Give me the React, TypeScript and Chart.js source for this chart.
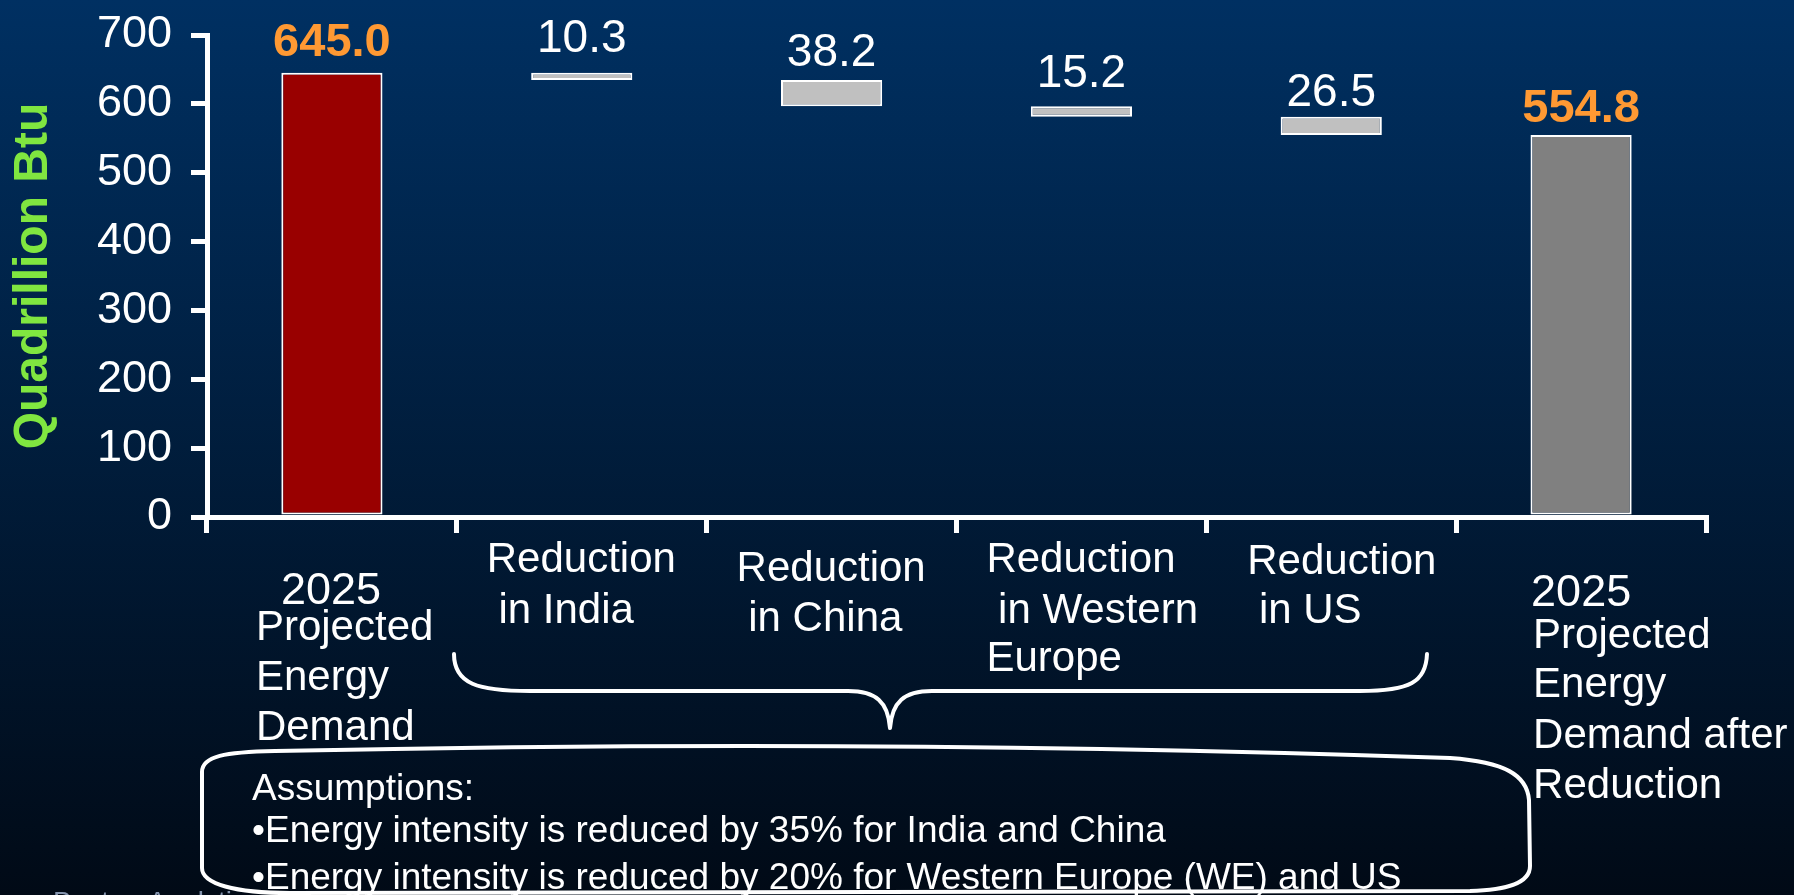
import React, { useEffect, useRef } from "react";
import { Chart, registerables } from "chart.js";

Chart.register(...registerables);

// ---------- data ----------
const categories = [
  "2025 Projected Energy Demand",
  "Reduction in India",
  "Reduction in China",
  "Reduction in Western Europe",
  "Reduction in US",
  "2025 Projected Energy Demand after Reduction",
];
const categoryLines = [
  ["2025", "Projected", "Energy", "Demand"],
  ["Reduction", " in India"],
  ["Reduction", " in China"],
  ["Reduction", " in Western", "Europe"],
  ["Reduction", " in US"],
  ["2025", "Projected", "Energy", "Demand after", "Reduction"],
];
const startDemand = 645.0;
const reductions = [10.3, 38.2, 15.2, 26.5];
const endDemand = 554.8;
const valueLabels = ["645.0", "10.3", "38.2", "15.2", "26.5", "554.8"];
const yTickValues = [0, 100, 200, 300, 400, 500, 600, 700];
const yAxisTitle = "Quadrillion Btu";
const assumptionLines = [
  "Assumptions:",
  "•Energy intensity is reduced by 35% for India and China",
  "•Energy intensity is reduced by 20% for Western Europe (WE) and US",
];
const footerText = "Boston Analytics";

// waterfall ranges built from the values above
const floatingBars: [number, number][] = [];
floatingBars.push([0, startDemand]);
{
  let level = startDemand;
  for (const r of reductions) {
    const next = Math.round((level - r) * 10) / 10;
    floatingBars.push([next, level]);
    level = next;
  }
}
floatingBars.push([0, endDemand]);

// ---------- styles ----------
const FONT = '"Liberation Sans", Arial, Helvetica, sans-serif';
const barColors = ["#990000", "#C0C0C0", "#C0C0C0", "#C0C0C0", "#C0C0C0", "#808080"];
const valueLabelGap = [17, 21, 14, 19, 11, 13];
// per-category label layout: x offsets from category centre (left edge), baselines below axis
const labelLayout = [
  { dx: [-51, -76, -76, -76], dy: [87, 123, 173, 223] },
  { dx: [-95, -95], dy: [55, 106] },
  { dx: [-95, -95], dy: [64, 114] },
  { dx: [-95, -95, -95], dy: [55, 106, 154] },
  { dx: [-84, -84], dy: [57, 106] },
  { dx: [-50, -48, -48, -48, -48], dy: [89, 131, 180, 231, 281] },
];

const backgroundPlugin = {
  id: "bg",
  beforeDraw(chart: any) {
    const { ctx, width, height } = chart;
    ctx.save();
    const g = ctx.createLinearGradient(0, 0, 0, height);
    g.addColorStop(0, "#003062");
    g.addColorStop(1, "#010A16");
    ctx.fillStyle = g;
    ctx.fillRect(0, 0, width, height);
    ctx.restore();
  },
};

const annotationPlugin = {
  id: "annotations",
  afterDraw(chart: any) {
    const { ctx } = chart;
    const xs = chart.scales.x;
    const area = chart.chartArea;
    const meta = chart.getDatasetMeta(0);
    ctx.save();

    // value labels
    meta.data.forEach((bar: any, i: number) => {
      const total = i === 0 || i === meta.data.length - 1;
      ctx.font = total ? `bold 47px ${FONT}` : `46px ${FONT}`;
      ctx.fillStyle = total ? "#FF9933" : "#FFFFFF";
      ctx.textAlign = "center";
      ctx.textBaseline = "alphabetic";
      const top = Math.min(bar.y, bar.base);
      ctx.fillText(valueLabels[i], bar.x, top - valueLabelGap[i]);
    });

    // category labels
    ctx.fillStyle = "#FFFFFF";
    ctx.textAlign = "left";
    categoryLines.forEach((lines, i) => {
      const cx = xs.getPixelForValue(i);
      const lay = labelLayout[i];
      lines.forEach((line, j) => {
        ctx.font = line === "2025" ? `45px ${FONT}` : `42px ${FONT}`;
        ctx.fillText(line, cx + lay.dx[j], area.bottom + lay.dy[j]);
      });
    });

    // brace under the reduction categories
    ctx.strokeStyle = "#FFFFFF";
    ctx.lineWidth = 4;
    ctx.lineCap = "round";
    ctx.lineJoin = "round";
    ctx.beginPath();
    ctx.moveTo(454, 654);
    ctx.bezierCurveTo(454, 684, 478, 691, 530, 691);
    ctx.lineTo(848, 691);
    ctx.bezierCurveTo(876, 691, 888, 702, 890, 728);
    ctx.bezierCurveTo(892, 702, 904, 691, 932, 691);
    ctx.lineTo(1360, 691);
    ctx.bezierCurveTo(1410, 691, 1426, 682, 1427, 654);
    ctx.stroke();

    // assumptions box
    ctx.beginPath();
    ctx.moveTo(202, 868);
    ctx.lineTo(202, 772);
    ctx.bezierCurveTo(202, 756, 225, 752, 275, 751);
    ctx.quadraticCurveTo(880, 738, 1450, 758);
    ctx.bezierCurveTo(1505, 762, 1527, 775, 1529, 800);
    ctx.lineTo(1530, 866);
    ctx.bezierCurveTo(1530, 884, 1505, 890, 1470, 891);
    ctx.lineTo(290, 893);
    ctx.bezierCurveTo(235, 893, 202, 884, 202, 868);
    ctx.stroke();

    // assumptions text
    ctx.fillStyle = "#FFFFFF";
    ctx.font = `37px ${FONT}`;
    ctx.textAlign = "left";
    const baselines = [800, 842, 889];
    assumptionLines.forEach((t, i) => ctx.fillText(t, 252, baselines[i]));

    // footer (cut off at the bottom edge)
    ctx.fillStyle = "#8494AE";
    ctx.font = `28px ${FONT}`;
    ctx.fillText(footerText, 53, 911);

    ctx.restore();
  },
};

export default function App() {
  const ref = useRef<HTMLCanvasElement>(null);
  useEffect(() => {
    document.body.style.margin = "0";
    document.body.style.background = "#010A16";
    const canvas = ref.current!;
    const chart = new Chart(canvas, {
      type: "bar",
      data: {
        labels: categories,
        datasets: [
          {
            data: floatingBars as any,
            backgroundColor: barColors,
            borderColor: "#FFFFFF",
            borderWidth: 2,
            borderSkipped: false,
            barPercentage: 0.405,
            categoryPercentage: 1,
          },
        ],
      },
      options: {
        responsive: false,
        animation: false,
        devicePixelRatio: 1,
        layout: { padding: { top: 35, right: 88, left: 0, bottom: 0 } },
        plugins: {
          legend: { display: false },
          tooltip: { enabled: false },
          title: { display: false },
        },
        scales: {
          x: {
            offset: true,
            grid: {
              display: true,
              drawOnChartArea: false,
              drawTicks: true,
              tickLength: 16,
              lineWidth: 5,
              tickWidth: 5,
              color: "#FFFFFF",
              tickColor: "#FFFFFF",
              offset: true,
            },
            border: { display: true, color: "#FFFFFF", width: 5 },
            ticks: { display: false },
            afterFit: (s: any) => {
              s.height = 378;
            },
          },
          y: {
            min: 0,
            max: 700,
            afterBuildTicks: (s: any) => {
              s.ticks = yTickValues.map((v) => ({ value: v }));
            },
            ticks: {
              color: "#FFFFFF",
              font: { family: FONT, size: 45 },
              padding: 19,
            },
            grid: {
              display: true,
              drawOnChartArea: false,
              drawTicks: true,
              tickLength: 16,
              lineWidth: 5,
              tickWidth: 5,
              color: "#FFFFFF",
              tickColor: "#FFFFFF",
            },
            border: { display: true, color: "#FFFFFF", width: 5 },
            title: {
              display: true,
              text: yAxisTitle,
              color: "#80E640",
              font: { family: FONT, size: 48, weight: "bold" },
              padding: { top: 5, bottom: 0 },
            },
            afterFit: (s: any) => {
              s.width = 207;
              s.paddingTop = 0;
              s.paddingBottom = 0;
            },
          },
        },
      },
      plugins: [backgroundPlugin, annotationPlugin],
    } as any);
    return () => chart.destroy();
  }, []);
  return <canvas ref={ref} width={1794} height={895} style={{ display: "block" }} />;
}
